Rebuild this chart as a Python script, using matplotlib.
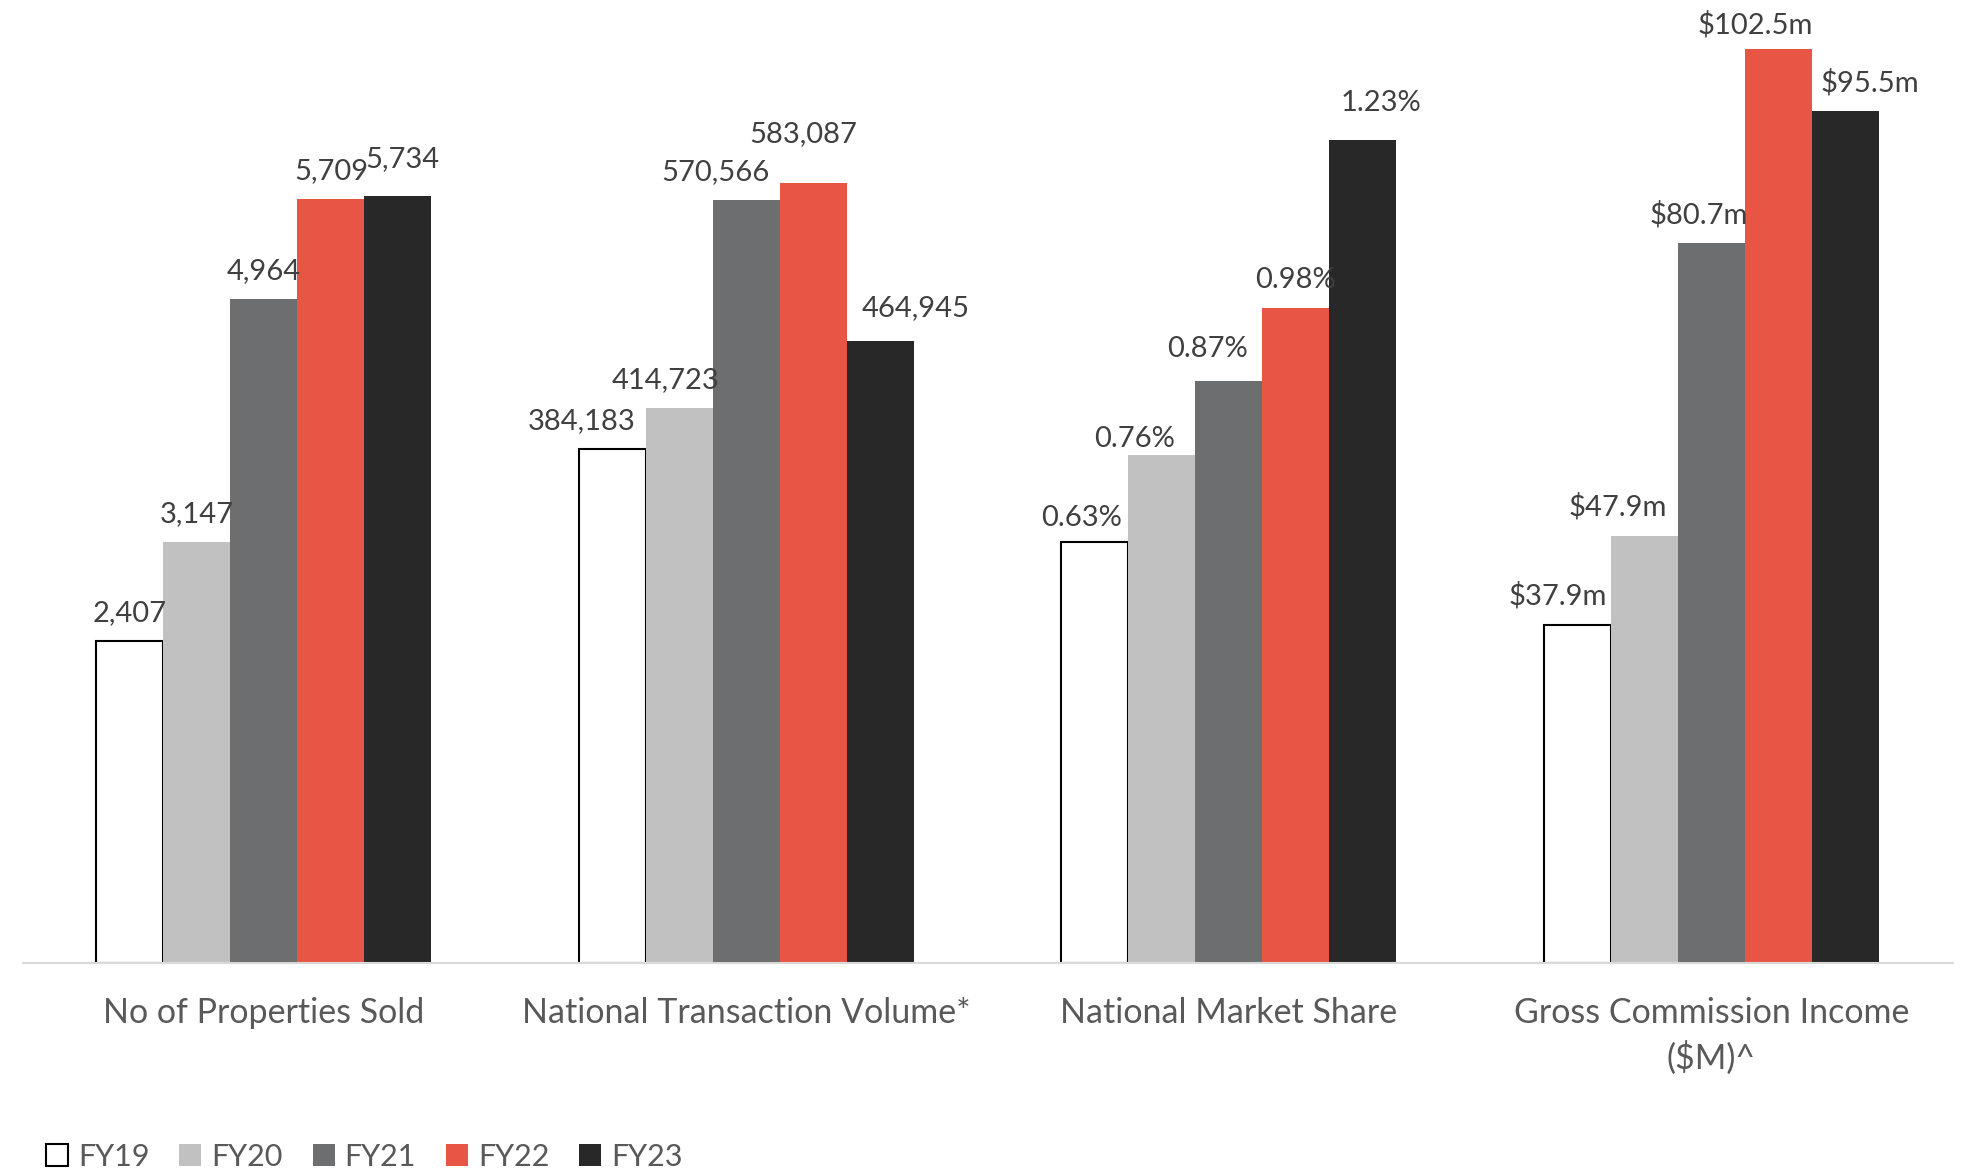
import matplotlib.pyplot as plt
from matplotlib.patches import Rectangle
import numpy as np

plt.rcParams['font.family'] = ['Lato', 'DejaVu Sans']

categories = ['No of Properties Sold', 'National Transaction Volume*',
              'National Market Share', 'Gross Commission Income\n($M)^']
years = ['FY19', 'FY20', 'FY21', 'FY22', 'FY23']

properties_sold = [2407, 3147, 4964, 5709, 5734]
transaction_volume = [384183, 414723, 570566, 583087, 464945]
market_share = [0.63, 0.76, 0.87, 0.98, 1.23]
commission_income = [37.9, 47.9, 80.7, 102.5, 95.5]

groups = [properties_sold, transaction_volume, market_share, commission_income]
# every group has its own scale in the source chart
group_scale = [1, 0.01, 5000, 200 / 3]
label_fmt = ['{:,.0f}', '{:,.0f}', '{:.2f}%', '${:.1f}m']

colors = ['white', '#c1c1c1', '#6d6e70', '#e95545', '#282828']

# label nudges in px (dx, dy), the source shifted some labels to avoid overlaps
label_nudge = [
    [(0, 0), (0, 0), (0, 0), (0, 0), (4, 9)],
    [(-31, 0), (-14, 0), (-31, 0), (-10, 21), (35, 5)],
    [(-13, -4), (-27, -12), (-21, 4), (0, 0), (18, 9)],
    [(-20, 0), (-27, 0), (-13, 0), (-23, -4), (24, 0)],
]

W, H = 1969, 1171
fig = plt.figure(figsize=(W / 100, H / 100), dpi=100)
ax = fig.add_axes([22.7 / W, 1 - 962.7 / H, 1930 / W, 962.7 / H])

x = np.arange(len(categories))
width = 0.1389
for j, yr in enumerate(years):
    heights = [g[j] * s for g, s in zip(groups, group_scale)]
    pos = x + (j - 2) * width
    if j == 0:
        ax.bar(pos, heights, width, color=colors[j], edgecolor='black', linewidth=1.5, zorder=2)
    else:
        ax.bar(pos, heights, width, color=colors[j], linewidth=0, zorder=2)
    for g in range(len(groups)):
        dx, dy = label_nudge[g][j]
        ax.annotate(label_fmt[g].format(groups[g][j]), (pos[g], heights[g]),
                    xytext=(dx * 0.72, (20 + dy) * 0.72), textcoords='offset points',
                    ha='center', va='baseline', fontsize=21, color='#404040',
                    annotation_clip=False)

ax.set_xlim(-0.5, 3.5)
ax.set_ylim(0, 7200)
ax.set_yticks([])
ax.set_xticks(x)
ax.set_xticklabels(categories, fontsize=24.5, color='#595959', linespacing=1.42)
ax.tick_params(axis='x', length=0, pad=25)
for s in ['top', 'left', 'right']:
    ax.spines[s].set_visible(False)
ax.spines['bottom'].set_color('#d9d9d9')
ax.spines['bottom'].set_linewidth(1.5)
ax.spines['bottom'].set_zorder(3)

# legend drawn by hand along the bottom edge
for i, yr in enumerate(years):
    x0 = 46 + i * 133.3
    fig.add_artist(Rectangle((x0 / W, 1 - 1166 / H), 22 / W, 22 / H, transform=fig.transFigure,
                             facecolor=colors[i], edgecolor='black' if i == 0 else 'none',
                             linewidth=1.5))
    fig.text((x0 + 32) / W, 1 - 1166 / H, yr, fontsize=22, color='#595959', va='baseline')

fig.savefig('out.png', dpi=100)
